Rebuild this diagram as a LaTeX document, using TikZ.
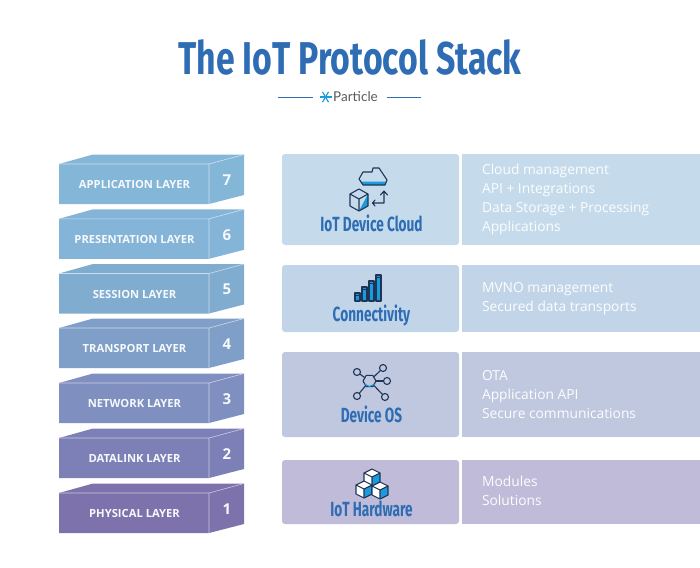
\documentclass[tikz,border=0pt]{standalone}
\usepackage{fontspec}
\setmainfont{Open Sans}
\newfontfamily\dinfont[FakeStretch=0.665]{Fira Sans}
\newfontfamily\bigfont[FakeStretch=0.735]{Fira Sans}
\newfontfamily\logofont{Lato}
\definecolor{titleblue}{HTML}{2E6DB4}
\definecolor{icondark}{HTML}{1F3557}
\definecolor{iconblue}{HTML}{1C9BDC}
\definecolor{panelA}{HTML}{C5DBEB}
\definecolor{panelB}{HTML}{C2D5E8}
\definecolor{panelC}{HTML}{BFC8DF}
\definecolor{panelD}{HTML}{BFBBD8}
\definecolor{layerA}{HTML}{84B6D8}
\definecolor{layerB}{HTML}{84B4D7}
\definecolor{layerC}{HTML}{80ACD0}
\definecolor{layerD}{HTML}{7F9FC8}
\definecolor{layerE}{HTML}{7F8FC0}
\definecolor{layerF}{HTML}{7D80B6}
\definecolor{layerG}{HTML}{7D72AC}
\tikzset{
  heading/.style={font=\dinfont\bfseries\fontsize{20.5}{24}\selectfont,text=titleblue,anchor=base},
  layerlabel/.style={font=\bfseries\fontsize{11.2}{13}\selectfont,text=white!92!layerA},
  layernum/.style={font=\bfseries\fontsize{15}{18}\selectfont,text=white!92!layerA},
  detail/.style={font=\fontsize{13.8}{19}\selectfont,text=white!95!panelA,align=left,anchor=west},
  icon/.style={draw=icondark,line width=1.1pt,line join=round},
  pics/isocube/.style={code={
    \fill[white] (0,-8)--(8,-4)--(8,5)--(0,9)--(-8,5)--(-8,-4)--cycle;
    \fill[iconblue] (0,0)--(8,-4)--(8,5)--(0,9)--cycle;
    \draw[icon] (0,-8)--(8,-4)--(8,5)--(0,9)--(-8,5)--(-8,-4)--cycle;
    \draw[icon] (-8,-4)--(0,0)--(8,-4) (0,0)--(0,9);
  }},
}
\begin{document}
\begin{tikzpicture}[x=1pt,y=-1pt]
\useasboundingbox (0,0) rectangle (700,567);
\node[heading,font=\bigfont\bfseries\fontsize{46}{50}\selectfont] (title) at (350,75) {The IoT Protocol Stack};
\node[font=\logofont\fontsize{13.5}{15}\selectfont,text=black!65] (logo) at (355.5,97) {Particle};
\draw[titleblue] (278,97)--(313,97);
\draw[titleblue] (387,97)--(421,97);
\foreach \a in {0,60,120} \draw[iconblue,line width=1.2pt] (325.5,97)+(\a:6)--+(\a+180:6);
% layers
\foreach \n/\y/\col/\txt in {7/164/layerA/APPLICATION LAYER,6/218.8/layerB/PRESENTATION LAYER,5/273.5/layerC/SESSION LAYER,4/328/layerD/TRANSPORT LAYER,3/383/layerE/NETWORK LAYER,2/438/layerF/DATALINK LAYER,1/493/layerG/PHYSICAL LAYER}{
  \fill[\col] (59,\y)--(93,\y-9.5)--(244,\y-9.5)--(244,\y+31)--(209,\y+40)--(59,\y+40)--cycle;
  \draw[white!60!\col,line width=0.6pt] (59,\y)--(209,\y)--(209,\y+40) (209,\y)--(244,\y-9.5);
  \node[layerlabel] (layer\n) at (134.5,\y+20.5) {\txt};
  \node[layernum] (num\n) at (227,\y+16) {\n};
}
% panels
\foreach \t/\h/\col in {154/91/panelA,265/67/panelB,352/85/panelC,460/64/panelD}{
  \fill[\col,rounded corners=3pt] (282,\t) rectangle (459,\t+\h);
  \fill[\col] (462,\t) rectangle (700,\t+\h);
}
\node[heading] (cloud) at (371.5,231) {IoT Device Cloud};
\node[heading] (conn) at (371.5,321) {Connectivity};
\node[heading] (os) at (371.5,422) {Device OS};
\node[heading] (hw) at (371.5,516) {IoT Hardware};
\node[detail] (clouditems) at (478.5,199.5) {Cloud management\\API + Integrations\\Data Storage + Processing\\Applications};
\node[detail] (connitems) at (478.5,298.5) {MVNO management\\Secured data transports};
\node[detail] (ositems) at (478.5,395) {OTA\\Application API\\Secure communications};
\node[detail] (hwitems) at (478.5,491) {Modules\\Solutions};
% cloud icon
\fill[iconblue] (360,181.5)--(386,181.5)--(385,185)--(363,185)--cycle;
\draw[icon] (359,179)--(363,172)--(372,172)--(373,168)--(379,168)--(383,174)--(387,180)--(385,185)--(363,185)--cycle;
\fill[iconblue] (359,211)--(368,206)--(368,194)--cycle;
\draw[icon] (359,189)--(368,194)--(368,206)--(359,211)--(350,206)--(350,194)--cycle;
\draw[icon] (350,194)--(359,199)--(368,194) (359,199)--(359,211);
\draw[icon,line cap=round] (375,200)--(372.5,203)--(375,206) (372.5,203)--(384,203)--(384,192) (380.5,195)--(384,191)--(387.5,195);
% bars
\foreach \x/\t in {355/293,362/287,369/281,376/275}{
  \fill[iconblue] (\x,\t) rectangle (\x+5,301);
  \draw[icon] (\x,\t) rectangle (\x+5,301);
  \draw[icon,line width=0.7pt] (\x,\t+2)--(\x+5,\t+2);
}
% network icon
\foreach \x/\y in {357/372,383/368,387/381,385/397,357/396}{
  \draw[icon] (369.5,381)--(\x,\y);
  \draw[icon,fill=panelC] (\x,\y) circle (3.5);
}
\fill[panelC] (369.5,381) circle (6);
\draw[icon] (369.5,381)+(0:6.5)--+(60:6.5)--+(120:6.5)--+(180:6.5)--+(240:6.5)--+(300:6.5)--cycle;
\draw[iconblue,line width=1pt] (364.5,384)--(369.5,386.5)--(374.5,384);
% hardware icon
\pic at (372,477) {isocube};
\pic at (364,489) {isocube};
\pic at (380,490) {isocube};
\end{tikzpicture}
\end{document}
